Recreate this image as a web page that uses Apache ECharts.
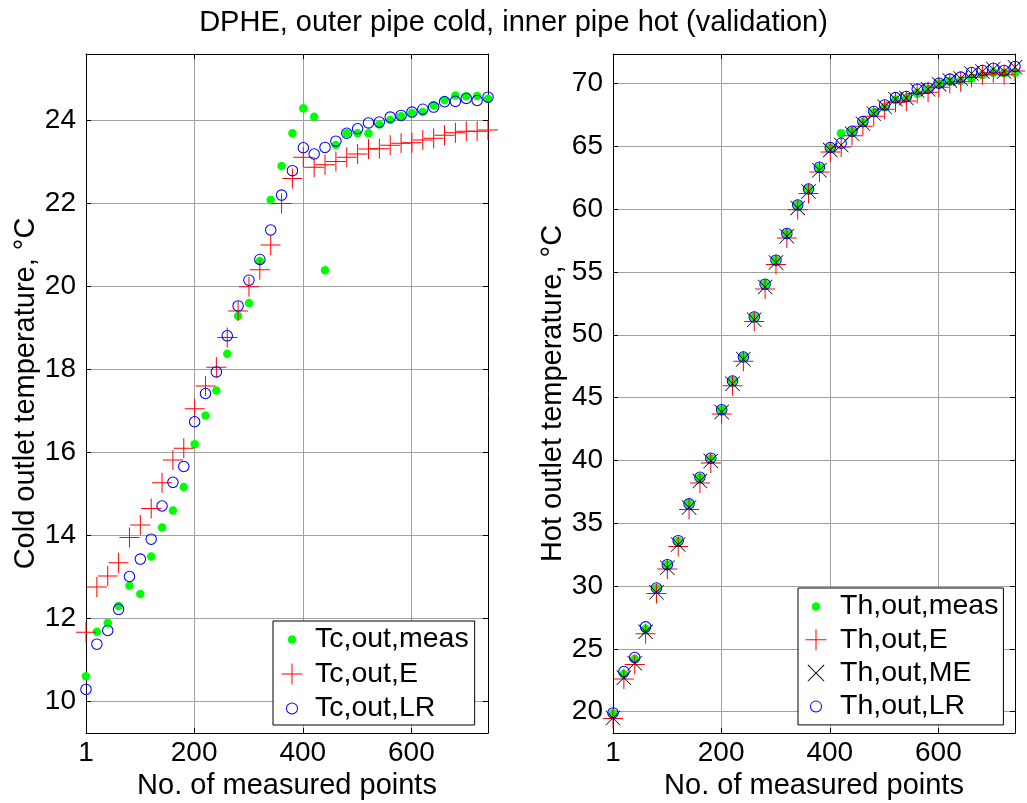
<!DOCTYPE html>
<html><head><meta charset="utf-8">
<script src="https://cdn.jsdelivr.net/npm/echarts@6/dist/echarts.min.js"></script>
<style>html,body{margin:0;padding:0;background:#fff}#c{width:1027px;height:803px}</style>
</head><body><div id="c"></div>
<script>
// ---- data ----
const X = [1,21,41,61,81,101,121,141,161,181,201,221,241,261,281,301,321,341,361,381,401,421,441,461,481,501,521,541,561,581,601,621,641,661,681,701,721,741];
const X_TICKS = [1,200,400,600];
const YL_TICKS = [10,12,14,16,18,20,22,24];
const YR_TICKS = [20,25,30,35,40,45,50,55,60,65,70];

const tcMeas = [10.60,11.67,11.88,12.29,12.78,12.58,13.48,14.18,14.59,15.16,16.19,16.88,17.48,18.37,19.28,19.59,20.60,22.07,22.89,23.68,24.28,24.08,20.38,23.40,23.68,23.68,23.68,23.89,24.00,24.09,24.17,24.19,24.35,24.48,24.59,24.57,24.58,24.51];
const tcE    = [11.66,12.75,13.01,13.33,13.94,14.24,14.64,15.26,15.81,16.09,17.04,17.59,18.04,18.76,19.40,19.98,20.39,20.99,21.99,22.59,23.10,22.86,22.92,23.00,23.10,23.18,23.30,23.31,23.39,23.44,23.45,23.52,23.56,23.63,23.69,23.73,23.73,23.76];
const tcLR   = [10.28,11.37,11.70,12.21,13.00,13.42,13.90,14.70,15.27,15.65,16.73,17.41,17.93,18.80,19.52,20.14,20.64,21.35,22.19,22.78,23.33,23.18,23.34,23.49,23.68,23.79,23.93,23.95,24.07,24.11,24.19,24.26,24.31,24.44,24.45,24.52,24.47,24.55];

const thMeas = [19.84,22.98,24.18,26.57,29.81,31.67,33.56,36.54,38.62,40.13,44.04,46.32,48.23,51.42,54.03,55.94,58.07,60.33,61.60,63.30,64.87,66.02,66.20,66.90,67.69,68.12,68.70,68.84,69.23,69.55,69.98,70.16,70.21,70.43,70.69,70.88,70.83,70.88];
const thE    = [19.45,22.60,23.75,26.20,29.40,31.35,33.15,36.10,38.20,39.80,43.70,45.95,47.90,51.05,53.65,55.60,57.70,59.95,61.25,62.95,64.55,64.95,65.85,66.60,67.40,67.95,68.50,68.60,69.20,69.30,69.70,70.00,70.15,70.50,70.70,70.85,70.70,71.00];
const thME   = [19.50,22.70,23.85,26.35,29.50,31.45,33.30,36.25,38.35,39.95,43.85,46.10,48.05,51.20,53.80,55.75,57.85,60.10,61.40,63.10,64.70,65.10,66.00,66.80,67.60,68.15,68.75,68.85,69.45,69.55,69.95,70.25,70.40,70.80,70.95,71.15,70.95,71.30];
const thLR   = [19.90,23.19,24.31,26.75,29.84,31.70,33.61,36.54,38.66,40.18,44.04,46.32,48.23,51.42,54.03,55.94,58.07,60.33,61.60,63.33,64.90,65.25,66.20,66.97,67.77,68.30,68.88,68.97,69.55,69.63,70.03,70.35,70.51,70.88,71.04,71.22,71.04,71.36];

// ---- styling ----
const FONT = 'Liberation Sans, Arial, Helvetica, sans-serif';
const PLUS = 'path://M9.5,0H10.5V9.5H20V10.5H10.5V20H9.5V10.5H0V9.5H9.5Z';
const XMARK = 'path://M0,0.7L0.7,0L10,9.3L19.3,0L20,0.7L10.7,10L20,19.3L19.3,20L10,10.7L0.7,20L0,19.3L9.3,10Z';
const RING = 'path://M0,11A11,11 0 1,1 22,11A11,11 0 1,1 0,11ZM2,11A9,9 0 1,0 20,11A9,9 0 1,0 2,11Z';
const L_DOT = 'path://M0,0M22,22M6.75,11A4.25,4.25 0 1,1 15.25,11A4.25,4.25 0 1,1 6.75,11Z';
const L_PLUS = 'path://M0,0M22,22M10.5,0.5H11.5V10.5H21.5V11.5H11.5V21.5H10.5V11.5H0.5V10.5H10.5Z';
const L_X = 'path://M0,0M22,22M2.5,3.2L3.2,2.5L11,10.3L18.8,2.5L19.5,3.2L11.7,11L19.5,18.8L18.8,19.5L11,11.7L3.2,19.5L2.5,18.8L10.3,11Z';
const L_RING = 'path://M0,0M22,22M5,11A6,6 0 1,1 17,11A6,6 0 1,1 5,11ZM6,11A5,5 0 1,0 16,11A5,5 0 1,0 6,11Z';

const GREEN = '#00ff00', RED = '#ff0000', BLUE = '#0000ff', BLACK = '#000000';

function pts(ys) { return X.map((x, i) => [x, ys[i]]); }

function xAxes(g) {
  return [
    { type: 'value', gridIndex: g, position: 'bottom', min: 1, max: 741,
      name: 'No. of measured points', nameLocation: 'middle', nameGap: 34,
      nameTextStyle: { fontSize: 29, color: '#000', fontFamily: FONT },
      axisLine: { show: true, onZero: false, lineStyle: { color: '#000', width: 1 } },
      axisTick: { show: true, inside: true, length: 5, customValues: X_TICKS, lineStyle: { color: '#000' } },
      axisLabel: { show: true, customValues: X_TICKS, fontSize: 28, color: '#000', margin: 6, fontFamily: FONT },
      splitLine: { show: true, lineStyle: { color: '#a0a0a0', width: 1 } } },
    { type: 'value', gridIndex: g, position: 'top', min: 1, max: 741,
      axisLine: { show: true, onZero: false, lineStyle: { color: '#000', width: 1 } },
      axisTick: { show: true, inside: true, length: 5, customValues: X_TICKS, lineStyle: { color: '#000' } },
      axisLabel: { show: false, customValues: X_TICKS },
      splitLine: { show: false } }
  ];
}
function yAxes(g, min, max, ticks, name, gap) {
  return [
    { type: 'value', gridIndex: g, position: 'left', min: min, max: max,
      name: name, nameLocation: 'middle', nameGap: gap, nameRotate: 90,
      nameTextStyle: { fontSize: 29, color: '#000', fontFamily: FONT },
      axisLine: { show: true, onZero: false, lineStyle: { color: '#000', width: 1 } },
      axisTick: { show: true, inside: true, length: 5, customValues: ticks, lineStyle: { color: '#000' } },
      axisLabel: { show: true, customValues: ticks, fontSize: 28, color: '#000', margin: 10, fontFamily: FONT },
      splitLine: { show: true, lineStyle: { color: '#a0a0a0', width: 1 } } },
    { type: 'value', gridIndex: g, position: 'right', min: min, max: max,
      axisLine: { show: true, onZero: false, lineStyle: { color: '#000', width: 1 } },
      axisTick: { show: true, inside: true, length: 5, customValues: ticks, lineStyle: { color: '#000' } },
      axisLabel: { show: false, customValues: ticks },
      splitLine: { show: false } }
  ];
}
function sc(name, data, xi, yi, symbol, size, color) {
  return { type: 'scatter', name: name, data: pts(data), xAxisIndex: xi, yAxisIndex: yi,
    symbol: symbol, symbolSize: size, clip: false, silent: true,
    itemStyle: { color: color, opacity: 1 }, emphasis: { disabled: true } };
}

const chart = echarts.init(document.getElementById('c'), null, { renderer: 'canvas' });
chart.setOption({
  backgroundColor: '#fff',
  animation: false,
  title: { text: 'DPHE, outer pipe cold, inner pipe hot (validation)', left: 'center', top: 3,
    textStyle: { fontSize: 29, fontWeight: 'normal', color: '#000', fontFamily: FONT } },
  grid: [
    { left: 86, top: 54, width: 402, height: 679, outerBoundsMode: 'none', containLabel: false, show: false },
    { left: 613, top: 54, width: 402, height: 679, outerBoundsMode: 'none', containLabel: false, show: false }
  ],
  xAxis: [].concat(xAxes(0), xAxes(1)),
  yAxis: [].concat(
    yAxes(0, 9.23, 25.59, YL_TICKS, 'Cold outlet temperature, \u00B0C', 45),
    yAxes(1, 18.30, 72.35, YR_TICKS, 'Hot outlet temperature, \u00B0C', 45)
  ),
  legend: [
    { orient: 'vertical', left: 273, top: 621, selectedMode: false,
      backgroundColor: '#fff', borderColor: '#000', borderWidth: 1, borderRadius: 0,
      padding: [4, 6, 2, 8], itemGap: 5.5, itemWidth: 36, itemHeight: 22,
      textStyle: { fontSize: 28.5, color: '#000', fontFamily: FONT },
      data: [ { name: 'Tc,out,meas', icon: L_DOT }, { name: 'Tc,out,E', icon: L_PLUS }, { name: 'Tc,out,LR', icon: L_RING } ] },
    { orient: 'vertical', left: 798, top: 588, selectedMode: false,
      backgroundColor: '#fff', borderColor: '#000', borderWidth: 1, borderRadius: 0,
      padding: [4, 5, 4, 7], itemGap: 4.3, itemWidth: 38, itemHeight: 22,
      textStyle: { fontSize: 28.5, color: '#000', fontFamily: FONT },
      data: [ { name: 'Th,out,meas', icon: L_DOT }, { name: 'Th,out,E', icon: L_PLUS }, { name: 'Th,out,ME', icon: L_X }, { name: 'Th,out,LR', icon: L_RING } ] }
  ],
  series: [
    sc('Tc,out,meas', tcMeas, 0, 0, 'circle', 8.5, GREEN),
    sc('Tc,out,E', tcE, 0, 0, PLUS, 20, RED),
    sc('Tc,out,LR', tcLR, 0, 0, RING, 11.5, BLUE),
    sc('Th,out,meas', thMeas, 2, 2, 'circle', 9, GREEN),
    sc('Th,out,E', thE, 2, 2, PLUS, 20, RED),
    sc('Th,out,ME', thME, 2, 2, XMARK, 15, BLACK),
    sc('Th,out,LR', thLR, 2, 2, RING, 11.5, BLUE)
  ]
});
</script>
</body></html>
